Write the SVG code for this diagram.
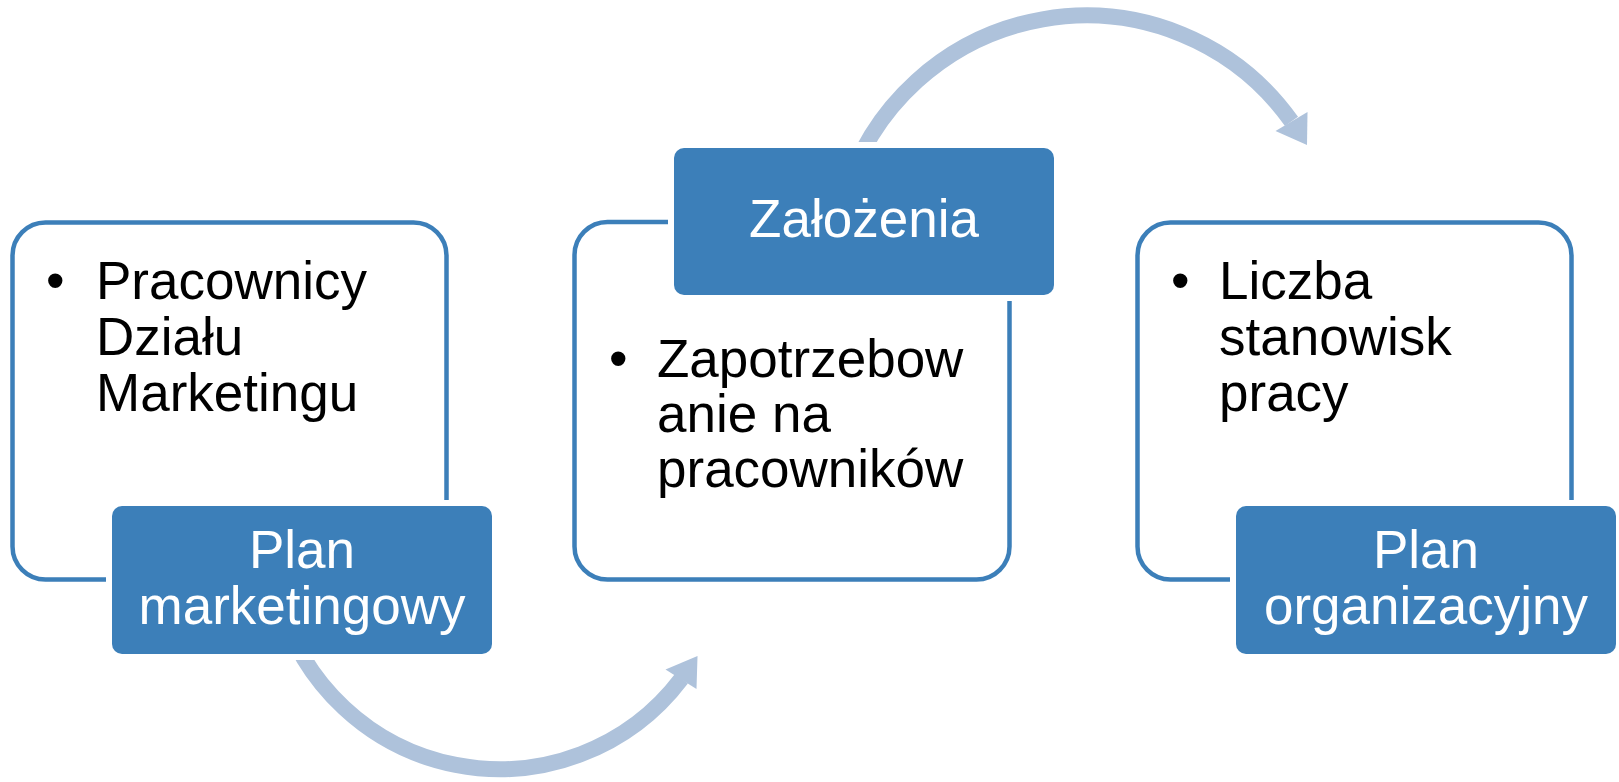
<svg xmlns="http://www.w3.org/2000/svg" width="1619" height="782" viewBox="0 0 1619 782">
<style>
.outline{fill:#fff;stroke:#3C7FB9;stroke-width:4.5}
.halo{fill:#fff}
.head{fill:#3C7FB9}
.arc{fill:none;stroke:#AEC2DB;stroke-width:16}
.tip{fill:#AEC2DB}
.t{font-family:"Liberation Sans",Arial,sans-serif;font-size:53px;fill:#000}
.w{font-family:"Liberation Sans",Arial,sans-serif;font-size:53px;fill:#fff;text-anchor:middle}
</style>
<rect width="1619" height="782" fill="#fff"/>
<g id="connectors">
<path class="arc" d="M 279.3 600 A 228 228 0 0 0 681.5 678.6"/>
<polygon class="tip" points="665.5,669.5 697.5,656 696.5,689"/>
<path class="arc" d="M 843.4 200 A 252 252 0 0 1 1291.5 121.4"/>
<polygon class="tip" points="1275.5,131 1307.5,112 1307,145"/>
</g>
<g id="node-marketing">
<rect class="outline" x="12.5" y="222.5" width="434" height="357" rx="33"/>
<text class="t" x="46" y="299">•</text>
<text class="t" x="96" y="299">Pracownicy</text>
<text class="t" x="96" y="355">Działu</text>
<text class="t" x="96" y="411">Marketingu</text>
</g>
<g id="node-plan-marketingowy">
<rect class="halo" x="106" y="500" width="392" height="160" rx="15"/>
<rect class="head" x="112" y="506" width="380" height="148" rx="10"/>
<text class="w" x="302" y="568">Plan</text>
<text class="w" x="302" y="624">marketingowy</text>
</g>
<g id="node-zapotrzebowanie">
<rect class="outline" x="574.5" y="222" width="435" height="357.5" rx="33"/>
<text class="t" x="609" y="377">•</text>
<text class="t" x="657" y="377">Zapotrzebow</text>
<text class="t" x="657" y="432">anie na</text>
<text class="t" x="657" y="487">pracowników</text>
</g>
<g id="node-zalozenia">
<rect class="halo" x="668" y="142" width="392" height="159" rx="15"/>
<rect class="head" x="674" y="148" width="380" height="147" rx="10"/>
<text class="w" x="864" y="237">Założenia</text>
</g>
<g id="node-stanowiska">
<rect class="outline" x="1137.5" y="222.5" width="434" height="357" rx="33"/>
<text class="t" x="1171" y="299">•</text>
<text class="t" x="1219" y="299">Liczba</text>
<text class="t" x="1219" y="355">stanowisk</text>
<text class="t" x="1219" y="411">pracy</text>
</g>
<g id="node-plan-organizacyjny">
<rect class="halo" x="1230" y="500" width="392" height="160" rx="15"/>
<rect class="head" x="1236" y="506" width="380" height="148" rx="10"/>
<text class="w" x="1426" y="568">Plan</text>
<text class="w" x="1426" y="624">organizacyjny</text>
</g>
</svg>
